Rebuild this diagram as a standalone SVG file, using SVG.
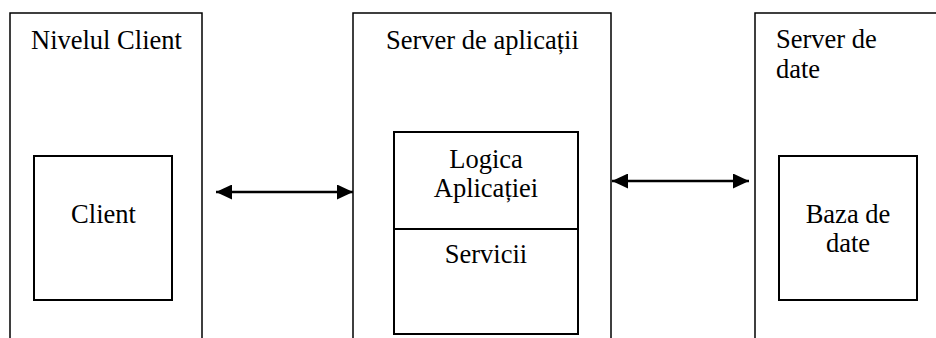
<svg xmlns="http://www.w3.org/2000/svg" width="936" height="338" viewBox="0 0 936 338">
<style>
.outer{fill:none;stroke:#000;stroke-width:1.5}
.inner{fill:none;stroke:#000;stroke-width:2}
.t{font-family:"Liberation Serif","Times New Roman",serif;font-size:26.5px;fill:#000}
.c{text-anchor:middle}
.conn{stroke:#000;stroke-width:2.6;fill:none}
</style>
<defs>
<marker id="ah" viewBox="0 0 16 15" refX="16" refY="7.5" markerWidth="16" markerHeight="15" markerUnits="userSpaceOnUse" orient="auto-start-reverse">
<path d="M0,0 L16,7.5 L0,15 Z" fill="#000"/>
</marker>
</defs>
<rect width="936" height="338" fill="#fff"/>
<g id="nivel-client">
<path class="outer" d="M10,340 V13 H202 V340"/>
<text class="t" x="31" y="49">Nivelul Client</text>
</g>
<g id="client">
<rect class="inner" x="34" y="156" width="138" height="144"/>
<text class="t c" x="103.5" y="223">Client</text>
</g>
<g id="server-aplicatii">
<path class="outer" d="M353,340 V13 H611 V340"/>
<text class="t" x="386" y="49">Server de aplicații</text>
</g>
<g id="logica">
<path class="inner" d="M394,229 V132 H578 V229"/>
<text class="t c" x="486" y="168">Logica</text>
<text class="t c" x="486" y="197">Aplicației</text>
</g>
<g id="servicii">
<rect class="inner" x="394" y="229" width="184" height="105"/>
<text class="t c" x="486" y="263">Servicii</text>
</g>
<g id="server-date">
<path class="outer" d="M755,340 V13 H936"/>
<text class="t" x="776" y="48">Server de</text>
<text class="t" x="776" y="78">date</text>
</g>
<g id="baza-date">
<rect class="inner" x="779" y="156" width="138" height="144"/>
<text class="t c" x="848" y="223">Baza de</text>
<text class="t c" x="848" y="252">date</text>
</g>
<g id="connectors">
<line class="conn" x1="216" y1="192" x2="353" y2="192" marker-start="url(#ah)" marker-end="url(#ah)"/>
<line class="conn" x1="612" y1="181" x2="749" y2="181" marker-start="url(#ah)" marker-end="url(#ah)"/>
</g>
</svg>
